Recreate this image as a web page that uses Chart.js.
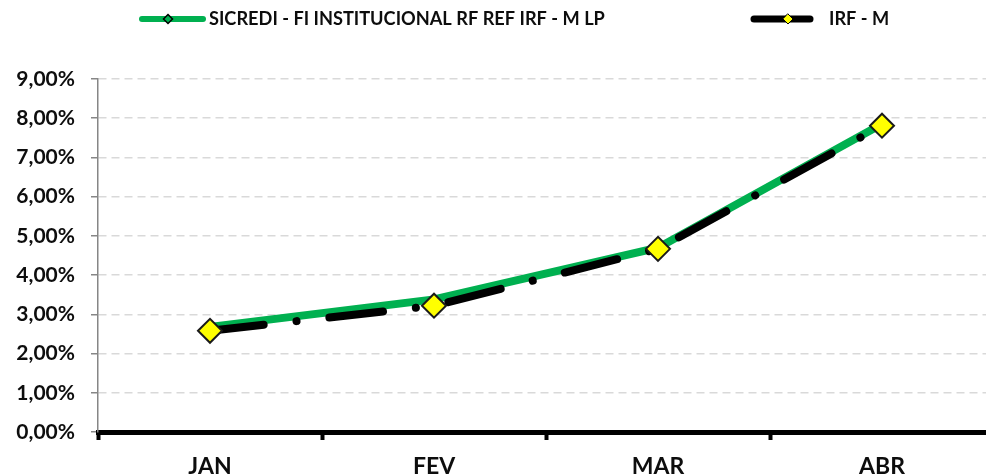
<!DOCTYPE html>
<html lang="pt-BR">
<head>
<meta charset="utf-8">
<title>SICREDI - FI INSTITUCIONAL RF REF IRF - M LP x IRF - M</title>
<script src="https://cdn.jsdelivr.net/npm/chart.js@4/dist/chart.umd.min.js"></script>
<style>
    html, body { margin: 0; padding: 0; background: #ffffff; overflow: hidden; }
    canvas { display: block; }
</style>
</head>
<body>
<!-- o canvas é mais largo que a janela: o eixo X do original continua além da borda direita -->
<canvas id="grafico" width="1008" height="475"></canvas>
<script>
// Dados do gráfico (rentabilidade acumulada, em %)
const meses = ['JAN', 'FEV', 'MAR', 'ABR'];
const sicredi = [2.68, 3.38, 4.70, 7.85];
const irfm = [2.58, 3.22, 4.67, 7.81];
const nomeFundo = 'SICREDI - FI INSTITUCIONAL RF REF IRF - M LP';
const nomeIndice = 'IRF - M';
const eixoMin = 0;
const eixoMax = 9;
const eixoPasso = 1;

const fonte = "Lato, 'Open Sans', sans-serif";
const verde = '#00B050';
const corTexto = '#0d0d0d';

// Legenda desenhada à mão, no estilo do Excel (linha + marcador + texto)
const legendaExcel = {
    id: 'legendaExcel',
    afterDraw(chart) {
        const ctx = chart.ctx;
        const y = 19;
        ctx.save();
        ctx.lineCap = 'round';

        // série 1
        ctx.strokeStyle = verde;
        ctx.lineWidth = 6;
        ctx.beginPath();
        ctx.moveTo(142, y);
        ctx.lineTo(203, y);
        ctx.stroke();
        losango(ctx, 168, y, 4.5, verde, '#000000', 1.5);

        // série 2
        ctx.strokeStyle = '#000000';
        ctx.lineWidth = 7;
        ctx.beginPath();
        ctx.moveTo(754, y);
        ctx.lineTo(810, y);
        ctx.stroke();
        losango(ctx, 788, y, 5, '#FFFF00', '#000000', 1);

        ctx.fillStyle = corTexto;
        ctx.font = 'bold 18.2px ' + fonte;
        ctx.textBaseline = 'middle';
        ctx.textAlign = 'left';
        ctx.fillText(nomeFundo, 209, y);
        ctx.fillText(nomeIndice, 829, y);
        ctx.restore();
    }
};

function losango(ctx, x, y, r, fundo, borda, esp) {
    ctx.beginPath();
    ctx.moveTo(x, y - r);
    ctx.lineTo(x + r, y);
    ctx.lineTo(x, y + r);
    ctx.lineTo(x - r, y);
    ctx.closePath();
    ctx.fillStyle = fundo;
    ctx.fill();
    ctx.lineWidth = esp;
    ctx.strokeStyle = borda;
    ctx.stroke();
}

window.onload = function() {
    if (typeof Chart === 'undefined') {
        console.error("Chart.js não carregou");
        return;
    }

    const ctx = document.getElementById('grafico');
    new Chart(ctx, {
        type: 'line',
        data: {
            labels: meses,
            datasets: [{
                label: nomeIndice,
                data: irfm,
                order: 1,
                borderColor: '#000000',
                borderWidth: 8,
                borderCapStyle: 'round',
                borderDash: [54, 33, 0.1, 33],
                tension: 0,
                fill: false,
                pointStyle: 'rectRot',
                pointRadius: 12,
                pointBackgroundColor: '#FFFF00',
                pointBorderColor: '#1a1a1a',
                pointBorderWidth: 2
            }, {
                label: nomeFundo,
                data: sicredi,
                order: 2,
                borderColor: verde,
                borderWidth: 8,
                borderCapStyle: 'round',
                tension: 0,
                fill: false,
                pointRadius: 0
            }]
        },
        plugins: [legendaExcel],
        options: {
            responsive: false,
            animation: false,
            devicePixelRatio: 1,
            layout: { padding: { top: 79, right: 0, left: 0, bottom: 0 } },
            plugins: {
                legend: { display: false },
                tooltip: { enabled: false }
            },
            scales: {
                x: {
                    offset: true,
                    afterFit: function(scale) { scale.height = 43; },
                    grid: {
                        offset: true,
                        drawOnChartArea: false,
                        drawTicks: true,
                        tickLength: 8,
                        tickColor: '#000000',
                        tickWidth: 4
                    },
                    border: { display: true, color: '#000000', width: 5 },
                    ticks: {
                        color: corTexto,
                        padding: 13,
                        font: { family: fonte, size: 23, weight: 'bold' }
                    }
                },
                y: {
                    min: eixoMin,
                    max: eixoMax,
                    afterFit: function(scale) { scale.width = 98; },
                    grid: {
                        color: '#D9D9D9',
                        lineWidth: 1.5,
                        drawTicks: true,
                        tickLength: 7,
                        tickColor: '#868686',
                        tickWidth: 1.5
                    },
                    border: { display: true, color: '#868686', width: 1.5, dash: [8, 5] },
                    ticks: {
                        stepSize: eixoPasso,
                        color: corTexto,
                        padding: 16,
                        font: { family: fonte, size: 21, weight: 'bold' },
                        callback: function(v) {
                            return v.toFixed(2).replace('.', ',') + '%';
                        }
                    }
                }
            }
        }
    });
    console.log("Gráfico inicializado");
};
</script>
</body>
</html>
